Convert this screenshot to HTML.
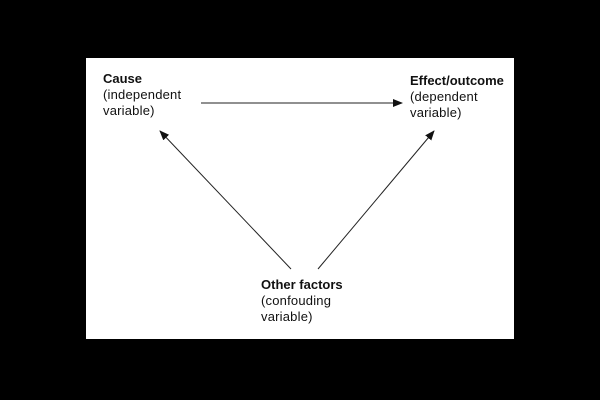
<!DOCTYPE html>
<html><head><style>
body{margin:0;width:600px;height:400px;background:#000;position:relative;overflow:hidden;font-family:"Liberation Sans",sans-serif;}
#w{position:absolute;left:86px;top:58px;width:428px;height:281px;background:#fff;}
.t{position:absolute;font-size:13px;line-height:16px;color:#111;letter-spacing:0.2px;}
b{font-weight:bold;letter-spacing:0;}
</style></head><body>
<div id="w"></div>
<div class="t" style="left:103px;top:71px"><b>Cause</b><br>(independent<br>variable)</div>
<div class="t" style="left:410px;top:73px"><b>Effect/outcome</b><br>(dependent<br>variable)</div>
<div class="t" style="left:261px;top:277px"><b>Other factors</b><br>(confouding<br>variable)</div>
<svg width="600" height="400" style="position:absolute;left:0;top:0">
<defs><marker id="a" markerWidth="10" markerHeight="8" refX="9" refY="4" orient="auto" markerUnits="userSpaceOnUse"><path d="M0,0 L10,4 L0,8 z" fill="#111"/></marker></defs>
<g stroke="#222" stroke-width="1" fill="none">
<line x1="201" y1="103" x2="402" y2="103" marker-end="url(#a)"/>
<line x1="291" y1="269" x2="160" y2="131" marker-end="url(#a)"/>
<line x1="318" y1="269" x2="434" y2="131" marker-end="url(#a)"/>
</g></svg>
</body></html>
